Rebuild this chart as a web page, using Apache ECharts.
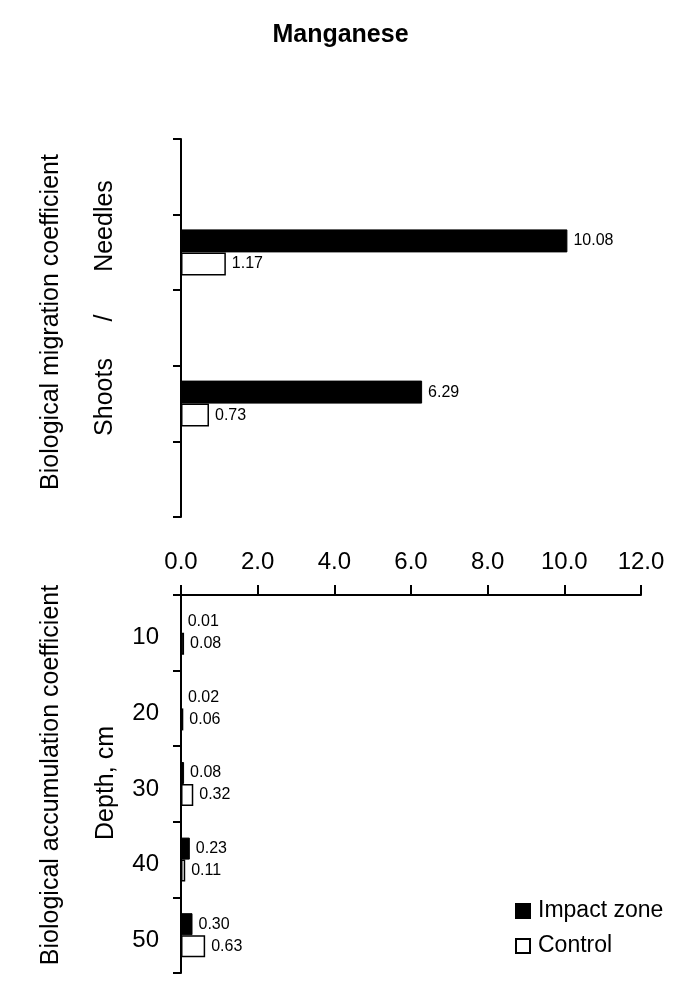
<!DOCTYPE html>
<html>
<head>
<meta charset="utf-8">
<script src="https://cdn.jsdelivr.net/npm/echarts@6/dist/echarts.min.js"></script>
<style>html,body{margin:0;padding:0;background:#fff}#c{width:681px;height:1004px}</style>
</head>
<body>
<div id="c"></div>
<script>
const titleText = 'Manganese';
const seriesNames = ['Impact zone', 'Control'];
// top panel (biological migration coefficient)
const topCategories = ['gap1', 'Needles', 'gap2', 'Shoots', 'gap3'];
const topImpact = [null, 10.08, null, 6.29, null];
const topControl = [null, 1.17, null, 0.73, null];
// bottom panel (biological accumulation coefficient)
const depthCategories = ['10', '20', '30', '40', '50'];
const bottomImpact = [0.01, 0.02, 0.08, 0.23, 0.30];
const bottomControl = [0.08, 0.06, 0.32, 0.11, 0.63];
const xMin = 0, xMax = 12, xStep = 2;
const topAxisName = 'Biological migration coefficient';
const topPartLabels = ['Shoots', '/', 'Needles'];
const bottomAxisName = 'Biological accumulation coefficient';
const depthName = 'Depth, cm';

const FONT = '"Liberation Sans", Arial, sans-serif';
const chart = echarts.init(document.getElementById('c'));

const lineStyle = { color: '#000', width: 2 };
const label = { show: true, position: 'right', distance: 6, color: '#000', fontSize: 16, fontFamily: FONT,
  formatter: p => p.value == null ? '' : Number(p.value).toFixed(2) };
const impactStyle = { color: '#000', borderColor: '#000', borderWidth: 1 };
const controlStyle = { color: '#fff', borderColor: '#000', borderWidth: 1.5 };

function rotText(x, y, text) {
  return { type: 'text', x: x, y: y, rotation: Math.PI / 2,
    style: { text: text, fill: '#000', font: '25px ' + FONT, align: 'center', verticalAlign: 'middle' } };
}

chart.setOption({
  animation: false,
  backgroundColor: '#fff',
  textStyle: { fontFamily: FONT },
  title: { text: titleText, left: 'center', top: 18,
    textStyle: { fontSize: 25, fontWeight: 'bold', color: '#000', fontFamily: FONT } },
  legend: {
    data: seriesNames, orient: 'vertical', left: 515, top: 899, padding: 0,
    itemWidth: 14, itemHeight: 14, itemGap: 11, icon: 'rect',
    textStyle: { fontSize: 23, lineHeight: 24, color: '#000', fontFamily: FONT, padding: [0, 0, 0, 3] }
  },
  grid: [
    { left: 181, top: 139, width: 460, height: 378 },
    { left: 181, top: 595, width: 460, height: 378 }
  ],
  xAxis: [
    { gridIndex: 0, type: 'value', min: xMin, max: xMax, interval: xStep, show: false },
    { gridIndex: 1, type: 'value', position: 'top', min: xMin, max: xMax, interval: xStep,
      axisLine: { show: true, lineStyle: lineStyle },
      axisTick: { show: true, length: 10, lineStyle: lineStyle },
      splitLine: { show: false },
      axisLabel: { color: '#000', fontSize: 24, fontFamily: FONT, margin: 21, formatter: v => v.toFixed(1) } }
  ],
  yAxis: [
    { gridIndex: 0, type: 'category', data: topCategories, inverse: true,
      axisLine: { show: true, lineStyle: lineStyle },
      axisTick: { show: true, length: 8, lineStyle: lineStyle },
      axisLabel: { show: false } },
    { gridIndex: 1, type: 'category', data: depthCategories, inverse: true,
      axisLine: { show: true, lineStyle: lineStyle },
      axisTick: { show: true, length: 8, lineStyle: lineStyle },
      axisLabel: { color: '#000', fontSize: 24, fontFamily: FONT, margin: 22,
        formatter: v => '{d|' + v + '}',
        rich: { d: { fontSize: 24, fontFamily: FONT, color: '#000', padding: [10, 0, 0, 0] } } } }
  ],
  series: [
    { name: seriesNames[0], type: 'bar', xAxisIndex: 0, yAxisIndex: 0, data: topImpact,
      barWidth: 23, barGap: '0%', itemStyle: impactStyle, label: label },
    { name: seriesNames[1], type: 'bar', xAxisIndex: 0, yAxisIndex: 0, data: topControl,
      barWidth: 23, barGap: '0%', itemStyle: controlStyle, label: label },
    { name: seriesNames[0], type: 'bar', xAxisIndex: 1, yAxisIndex: 1, data: bottomImpact,
      barWidth: 22, barGap: '0%', itemStyle: impactStyle, label: label },
    { name: seriesNames[1], type: 'bar', xAxisIndex: 1, yAxisIndex: 1, data: bottomControl,
      barWidth: 22, barGap: '0%', itemStyle: controlStyle, label: label }
  ],
  graphic: [
    rotText(51, 322, topAxisName),
    rotText(105, 397, topPartLabels[0]),
    rotText(105, 318, topPartLabels[1]),
    rotText(105, 226, topPartLabels[2]),
    rotText(51, 775, bottomAxisName),
    rotText(106, 783, depthName)
  ]
});
</script>
</body>
</html>
